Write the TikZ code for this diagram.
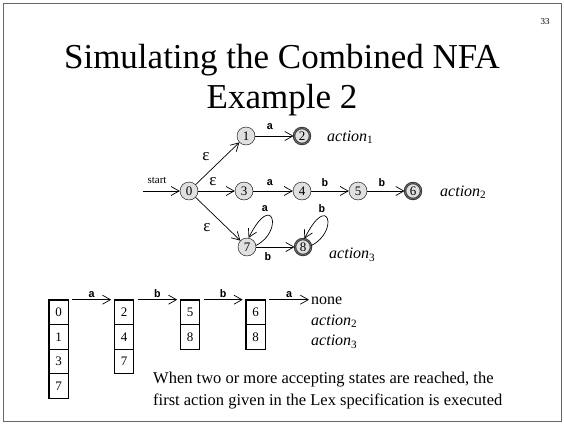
\documentclass[tikz,border=0pt]{standalone}
\usepackage{fontspec}
\setmainfont{Liberation Serif}
\newfontfamily\labfont{Liberation Mono}
\usetikzlibrary{arrows.meta}
\newcommand{\actn}[1]{{\itshape action}\textsubscript{#1}}
\tikzset{
  st/.style={circle, draw, fill=black!12, minimum size=18pt, inner sep=0pt, font=\fontsize{13}{13}\selectfont},
  acc/.style={st, draw=black!80, double=black!55, double distance=0.6pt, line width=0.9pt, minimum size=16pt},
  tr/.style={-{Straight Barb[length=8pt,width=9pt]}, line width=0.7pt},
  sym/.style={font=\labfont\bfseries\fontsize{11}{11}\selectfont, inner sep=1pt},
  eps/.style={font=\fontsize{17}{17}\selectfont, inner sep=1pt},
  act/.style={anchor=west, font=\fontsize{16}{16}\selectfont, inner sep=0pt},
  cell/.style={draw, line width=0.6pt, minimum width=19pt, minimum height=24.5pt, inner sep=0pt, font=\fontsize{13}{13}\selectfont},
}
\begin{document}
\begin{tikzpicture}[x=1pt,y=1pt]
\useasboundingbox (0,0) rectangle (564,424);
\draw[black!60, line width=0.8pt] (3,3) rectangle (561,421);
\node[font=\fontsize{9}{9}\selectfont] (pg) at (545,402) {33};
\node[font=\fontsize{35}{40}\selectfont, align=center] (title) at (282,344) {Simulating the Combined NFA\\Example 2};

% NFA
\node[st] (s0) at (189,233) {0};
\node[st] (s1) at (246,288) {1};
\node[acc] (s2) at (302,288) {2};
\node[st] (s3) at (244,233) {3};
\node[st] (s4) at (302,233) {4};
\node[st] (s5) at (358,233) {5};
\node[acc] (s6) at (413,233) {6};
\node[st] (s7) at (247,177) {7};
\node[acc] (s8) at (303,177) {8};
\coordinate (st) at (143,233);
\node[font=\fontsize{11}{11}\selectfont, inner sep=0pt] (startlbl) at (157,244) {start};

\draw[tr] (st) -- (s0);
\draw[tr] (s0) -- (s1);
\draw[tr] (s0) -- (s3);
\draw[tr] (s0) -- (s7);
\draw[tr] (s1) -- (s2);
\draw[tr] (s3) -- (s4);
\draw[tr] (s4) -- (s5);
\draw[tr] (s5) -- (s6);
\draw[tr] (s7) -- (s8);
\draw[tr] (s7.10) .. controls +(28,14) and +(24,48) .. (s7.80);
\draw[tr] (s8.10) .. controls +(28,14) and +(24,48) .. (s8.80);

\node[eps] (e1) at (206,267) {ε};
\node[eps] (e2) at (213,242) {ε};
\node[eps] (e3) at (207,196) {ε};
\node[sym] (l12) at (270,297) {a};
\node[sym] (l34) at (270,241) {a};
\node[sym] (l45) at (325,241) {b};
\node[sym] (l56) at (382,241) {b};
\node[sym] (l78) at (268,167) {b};
\node[sym] (l77) at (265,215) {a};
\node[sym] (l88) at (322,215) {b};

\node[act] (a1) at (327,287) {\actn{1}};
\node[act] (a2) at (440,232) {\actn{2}};
\node[act] (a3) at (329,169) {\actn{3}};

% simulation
\node[cell] (c10) at (58.5,111.75) {0};
\node[cell] (c11) at (58.5,87.25) {1};
\node[cell] (c12) at (58.5,62.75) {3};
\node[cell] (c13) at (58.5,38.25) {7};
\node[cell] (c20) at (124,111.75) {2};
\node[cell] (c21) at (124,87.25) {4};
\node[cell] (c22) at (124,62.75) {7};
\node[cell] (c30) at (190,111.75) {5};
\node[cell] (c31) at (190,87.25) {8};
\node[cell] (c40) at (255.5,111.75) {6};
\node[cell] (c41) at (255.5,87.25) {8};
\draw[line width=1.3pt] (c10.north west) rectangle (c13.south east);
\draw[line width=1.3pt] (c20.north west) rectangle (c22.south east);
\draw[line width=1.3pt] (c30.north west) rectangle (c31.south east);
\draw[line width=1.3pt] (c40.north west) rectangle (c41.south east);

\node[anchor=west, font=\fontsize{16}{16}\selectfont, inner sep=0pt] (none) at (311,123) {none};
\node[act] (b2) at (311,103) {\actn{2}};
\node[act] (b3) at (311,82) {\actn{3}};

\draw[tr] ([xshift=4pt]c10.north east) -- ([xshift=-3pt]c20.north west) node[sym, midway, above=1pt] (m1) {a};
\draw[tr] ([xshift=4pt]c20.north east) -- ([xshift=-3pt]c30.north west) node[sym, midway, above=1pt] (m2) {b};
\draw[tr] ([xshift=4pt]c30.north east) -- ([xshift=-3pt]c40.north west) node[sym, midway, above=1pt] (m3) {b};
\draw[tr] ([xshift=4pt]c40.north east) -- ([xshift=-2pt]c40.north east -| none.west) node[sym, midway, above=1pt] (m4) {a};

\node[anchor=west, align=left, font=\fontsize{16.5}{22}\selectfont, inner sep=0pt] (note) at (153,33) {When two or more accepting states are reached, the\\first action given in the Lex specification is executed};
\end{tikzpicture}
\end{document}
